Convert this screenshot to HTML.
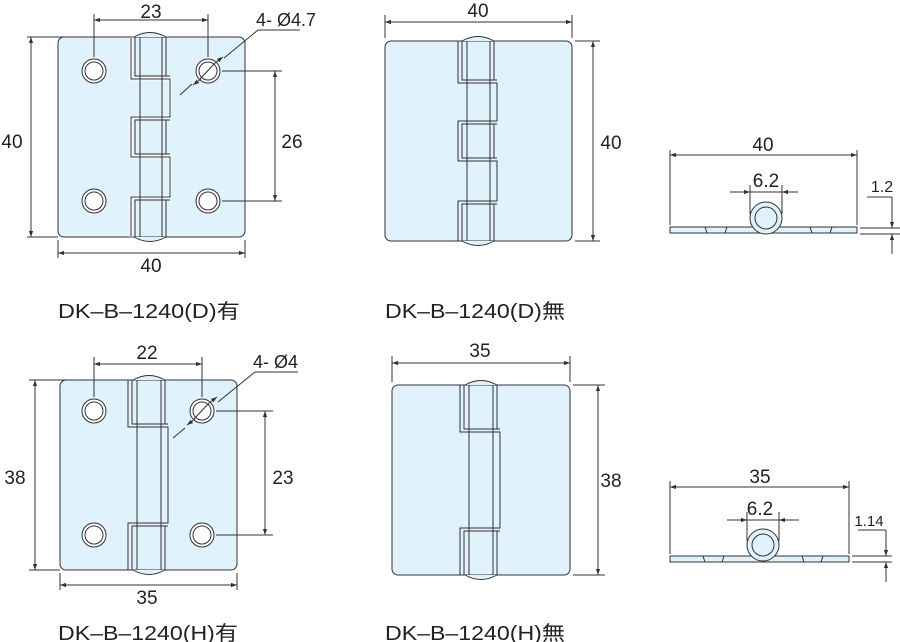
<!DOCTYPE html>
<html><head><meta charset="utf-8"><style>
html,body{margin:0;padding:0;background:#fff;}
svg{display:block;}
text{font-family:"Liberation Sans","Noto Sans CJK JP",sans-serif;fill:#222;}
</style></head><body>
<svg width="900" height="642" viewBox="0 0 900 642" xmlns="http://www.w3.org/2000/svg">
<defs>
<marker id="a" viewBox="0 0 10 10" refX="10" refY="5" markerWidth="9" markerHeight="6" orient="auto-start-reverse" markerUnits="userSpaceOnUse"><path d="M0,1.5L10,5L0,8.5z" fill="#333"/></marker>
</defs>
<g stroke="#333" stroke-width="1" fill="none">
<!-- Drawing 1 -->
<rect x="58" y="37" width="187" height="200" rx="6" fill="#e0f2fb"/>
<path d="M134,37 Q150,28 166,37 M134,237 Q150,246 166,237" fill="#e0f2fb"/>
<path d="M131,37 V79 H170 V117 H131 V157 H170 V197 H131 V237" stroke="#fff" stroke-width="3"/>
<path d="M131,37 V79 H170 V117 H131 V157 H170 V197 H131 V237"/>
<path d="M135,37 V76 H170 M170,120 H135 V154 H170 M170,200 H135 V237"/>
<path d="M140,37 V237 M166,37 V76 M166,120 V154 M166,200 V237 M162,37 V237"/>
<g fill="#fff"><circle cx="94" cy="71" r="12"/><circle cx="208" cy="71" r="12"/><circle cx="94" cy="201" r="12"/><circle cx="208" cy="201" r="12"/></g>
<g><circle cx="94" cy="71" r="9"/><circle cx="208" cy="71" r="9"/><circle cx="94" cy="201" r="9"/><circle cx="208" cy="201" r="9"/></g>
<path d="M94,57 V14 M208,57 V14 M222,71 H282 M222,201 H282 M27,37 H130 M27,237 H58 M58,240 V258 M245,240 V258"/>
<path d="M94,20 H208" marker-start="url(#a)" marker-end="url(#a)"/>
<path d="M275,71 V201" marker-start="url(#a)" marker-end="url(#a)"/>
<path d="M31,37 V237" marker-start="url(#a)" marker-end="url(#a)"/>
<path d="M58,253 H245" marker-start="url(#a)" marker-end="url(#a)"/>
<path d="M300,30 H258 L224,58 M180,95 L192,84"/>
<path d="M215,63 L223,57" marker-end="url(#a)"/><path d="M201,79 L193,85" marker-end="url(#a)"/>
<path d="M200,79 L215,63"/>

<!-- Drawing 2 -->
<rect x="385" y="41" width="187" height="200" rx="6" fill="#e0f2fb"/>
<path d="M462,41 Q478,32 494,41 M462,241 Q478,250 494,241" fill="#e0f2fb"/>
<path d="M458,41 V83 H497 V121 H458 V161 H497 V201 H458 V241"/>
<path d="M462,41 V80 H497 M497,124 H462 V158 H497 M497,204 H462 V241"/>
<path d="M467,41 V241 M490,41 V241 M494,41 V80 M494,124 V158 M494,204 V241"/>
<path d="M385,38 V15 M572,38 V15 M575,41 H600 M575,241 H600"/>
<path d="M385,22 H572" marker-start="url(#a)" marker-end="url(#a)"/>
<path d="M593,41 V241" marker-start="url(#a)" marker-end="url(#a)"/>

<!-- Drawing 3 side -->
<path d="M670,227 H857 V233 H670 Z" fill="#e0f2fb"/>
<path d="M705,227 L707,233 M727,227 L725,233 M810,227 L812,233 M832,227 L830,233"/>
<circle cx="766" cy="218" r="16" fill="#e0f2fb"/><circle cx="766" cy="218" r="11"/>
<path d="M670,225 V150 M857,225 V150 M750,214 V185 M782,214 V185"/>
<path d="M670,155 H857" marker-start="url(#a)" marker-end="url(#a)"/>
<path d="M730,192 H750" marker-end="url(#a)"/><path d="M798,192 H782" marker-end="url(#a)"/><path d="M750,192 H782"/>
<path d="M860,228 H900 M860,234 H900 M867,197 H892"/>
<path d="M892,197 V228" marker-end="url(#a)"/><path d="M892,254 V234" marker-end="url(#a)"/>

<!-- Drawing 4 -->
<rect x="60" y="380" width="177" height="190" rx="6" fill="#e0f2fb"/>
<path d="M133,380 Q149,371 165,380 M133,570 Q149,579 165,570" fill="#e0f2fb"/>
<path d="M128,380 V427 H168 V523 H128 V570"/>
<path d="M132,380 V424 H168 M168,526 H132 V570"/>
<path d="M137,380 V570 M161,380 V570 M165,380 V424 M165,526 V570"/>
<g fill="#fff"><circle cx="94" cy="411" r="12"/><circle cx="202" cy="411" r="12"/><circle cx="94" cy="535" r="12"/><circle cx="202" cy="535" r="12"/></g>
<g><circle cx="94" cy="411" r="9"/><circle cx="202" cy="411" r="9"/><circle cx="94" cy="535" r="9"/><circle cx="202" cy="535" r="9"/></g>
<path d="M94,397 V357 M202,397 V357 M216,411 H273 M216,535 H273 M29,380 H128 M29,570 H60 M60,573 V590 M237,573 V590"/>
<path d="M94,364 H202" marker-start="url(#a)" marker-end="url(#a)"/>
<path d="M265,411 V535" marker-start="url(#a)" marker-end="url(#a)"/>
<path d="M35,380 V570" marker-start="url(#a)" marker-end="url(#a)"/>
<path d="M60,585 H237" marker-start="url(#a)" marker-end="url(#a)"/>
<path d="M298,372 H255 L218,402 M173,438 L185,428"/>
<path d="M209,403 L217,397" marker-end="url(#a)"/><path d="M195,419 L187,425" marker-end="url(#a)"/>
<path d="M194,419 L209,403"/>

<!-- Drawing 5 -->
<rect x="392" y="385" width="178" height="190" rx="6" fill="#e0f2fb"/>
<path d="M465,385 Q481,376 497,385 M465,575 Q481,584 497,575" fill="#e0f2fb"/>
<path d="M460,385 V432 H500 V528 H460 V575"/>
<path d="M464,385 V429 H500 M500,531 H464 V575"/>
<path d="M469,385 V575 M493,385 V575 M497,385 V429 M497,531 V575"/>
<path d="M392,382 V356 M570,382 V356 M573,385 H605 M573,575 H605"/>
<path d="M392,363 H570" marker-start="url(#a)" marker-end="url(#a)"/>
<path d="M598,385 V575" marker-start="url(#a)" marker-end="url(#a)"/>

<!-- Drawing 6 side -->
<path d="M670,556 H849 V562 H670 Z" fill="#e0f2fb"/>
<path d="M703,556 L705,562 M724,556 L722,562 M802,556 L804,562 M823,556 L821,562"/>
<circle cx="763" cy="545" r="16" fill="#e0f2fb"/><circle cx="763" cy="545" r="11"/>
<path d="M670,554 V481 M849,554 V481 M747,541 V512 M779,541 V512"/>
<path d="M670,487 H849" marker-start="url(#a)" marker-end="url(#a)"/>
<path d="M727,520 H747" marker-end="url(#a)"/><path d="M799,520 H779" marker-end="url(#a)"/><path d="M747,520 H779"/>
<path d="M852,556 H892 M852,562 H892 M858,530 H886"/>
<path d="M886,530 V556" marker-end="url(#a)"/><path d="M886,582 V562" marker-end="url(#a)"/>
</g>
<g font-size="19" text-anchor="middle">
<text x="151" y="18">23</text>
<text x="12" y="148">40</text>
<text x="292" y="148">26</text>
<text x="151" y="272">40</text>
<text x="478" y="17">40</text>
<text x="611" y="149">40</text>
<text x="763" y="151">40</text>
<text x="766" y="187">6.2</text>
<text x="882" y="192" font-size="16">1.2</text>
<text x="147" y="359">22</text>
<text x="15" y="484">38</text>
<text x="283" y="484">23</text>
<text x="147" y="604">35</text>
<text x="480" y="357">35</text>
<text x="611" y="487">38</text>
<text x="760" y="483">35</text>
<text x="760" y="515">6.2</text>
<text x="869" y="526" font-size="15">1.14</text>
</g>
<g font-size="18">
<text x="256" y="26">4- Ø4.7</text>
<text x="253" y="368">4- Ø4</text>
</g>
<g font-size="20">
<text x="58" y="318" textLength="182" lengthAdjust="spacingAndGlyphs">DK–B–1240(D)有</text>
<text x="385" y="318" textLength="180" lengthAdjust="spacingAndGlyphs">DK–B–1240(D)無</text>
<text x="58" y="640" textLength="180" lengthAdjust="spacingAndGlyphs">DK–B–1240(H)有</text>
<text x="385" y="640" textLength="180" lengthAdjust="spacingAndGlyphs">DK–B–1240(H)無</text>
</g>
</svg>
</body></html>
